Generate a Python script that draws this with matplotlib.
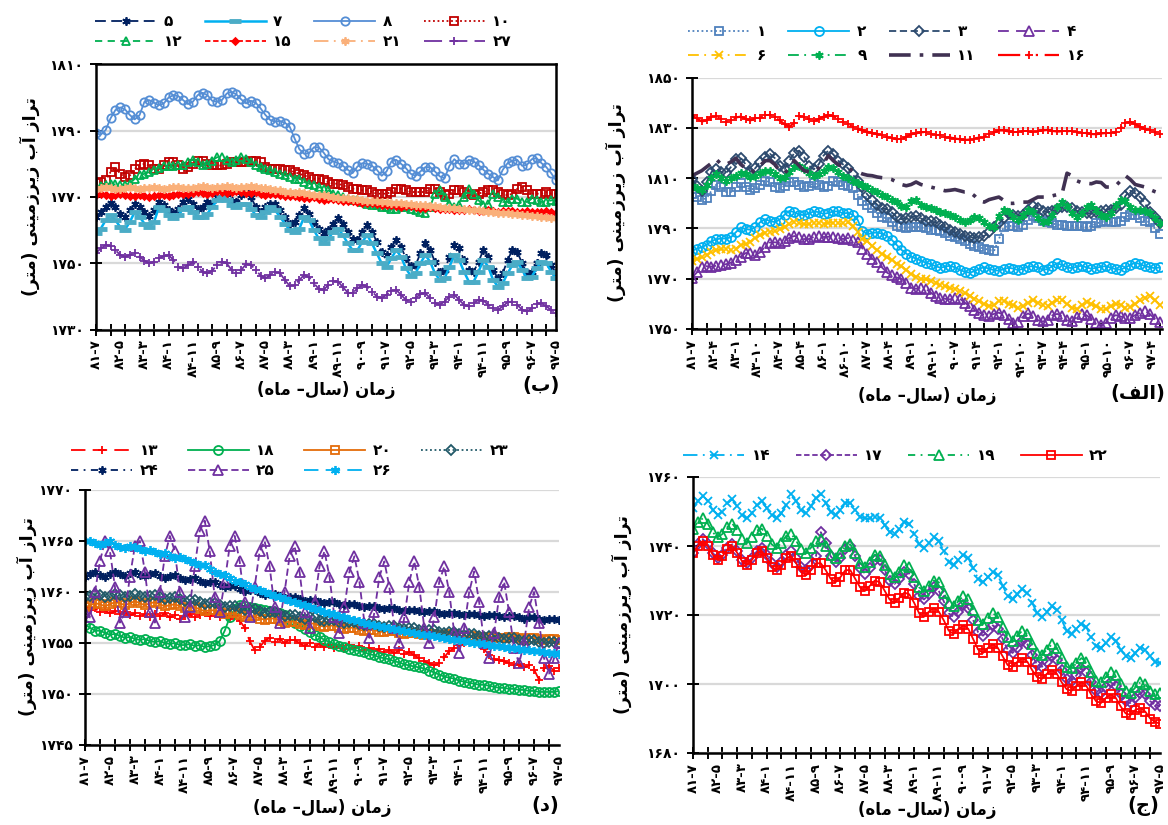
import matplotlib
matplotlib.use('Agg')
import matplotlib.pyplot as plt
from matplotlib.ticker import MultipleLocator, FuncFormatter, FixedLocator

plt.rcParams['font.family'] = ['DejaVu Sans', 'Noto Sans']
plt.rcParams['font.weight'] = 'bold'

# ---------------- data ----------------
# month index counted from 81-7, one point every two months
months = list(range(0, 191, 2))
months_alef = list(range(0, 193, 2))

ticks_10 = ['۸۱-۷', '۸۲-۵', '۸۳-۳', '۸۴-۱', '۸۴-۱۱', '۸۵-۹', '۸۶-۷', '۸۷-۵', '۸۸-۳', '۸۹-۱',
            '۸۹-۱۱', '۹۰-۹', '۹۱-۷', '۹۲-۵', '۹۳-۳', '۹۴-۱', '۹۴-۱۱', '۹۵-۹', '۹۶-۷', '۹۷-۵']
ticks_9 = ['۸۱-۷', '۸۲-۴', '۸۳-۱', '۸۳-۱۰', '۸۴-۷', '۸۵-۴', '۸۶-۱', '۸۶-۱۰', '۸۷-۷', '۸۸-۴', '۸۹-۱',
           '۸۹-۱۰', '۹۰-۷', '۹۱-۴', '۹۲-۱', '۹۲-۱۰', '۹۳-۷', '۹۴-۴', '۹۵-۱', '۹۵-۱۰', '۹۶-۷', '۹۷-۴']

yticks_b = [1730, 1750, 1770, 1790, 1810]
yticks_a = [1750, 1770, 1790, 1810, 1830, 1850]
yticks_d = [1745, 1750, 1755, 1760, 1765, 1770]
yticks_j = [1680, 1700, 1720, 1740, 1760]

# panel (b)
labels_b = ['۵', '۷', '۸', '۱۰', '۱۲', '۱۵', '۲۱', '۲۷']
w5 = [1764, 1765.5, 1767, 1768.2, 1767, 1765, 1764, 1766, 1768, 1767, 1765.5, 1764.2,
      1766, 1768.5, 1767.5, 1766, 1765.2, 1766.5, 1768.5, 1769.5, 1768, 1766.5, 1767, 1768.5,
      1768, 1770, 1772.5, 1771, 1768.8, 1768.5, 1770.5, 1772.5, 1770, 1767, 1765.5, 1767,
      1768, 1767.8, 1766, 1764, 1762, 1762.5, 1764.5, 1766.6, 1765, 1762.5, 1760.5, 1759,
      1760, 1762, 1763.6, 1762, 1759.5, 1757.2, 1757, 1759.5, 1761.6, 1759.5, 1756.5, 1753.5,
      1752.5, 1755, 1757, 1755, 1751.5, 1749.2, 1749.5, 1753, 1756, 1754, 1750.5, 1747.5,
      1748, 1752, 1755.5, 1754.5, 1751, 1748, 1747.5, 1750.5, 1754, 1752, 1748, 1745.5,
      1747, 1751, 1754, 1753.5, 1750, 1747, 1747.5, 1750, 1753, 1752.5, 1749.5, 1747]
w7 = [1759, 1760.5, 1763, 1764.5, 1763, 1761, 1760.2, 1762.5, 1765.5, 1764, 1762, 1761,
      1762.5, 1767, 1766, 1764.5, 1763.7, 1764.5, 1766.5, 1767, 1765.5, 1764, 1764, 1765,
      1767, 1769, 1770, 1769, 1767.5, 1767, 1768, 1768, 1766.5, 1764.5, 1764, 1765.5,
      1767, 1766, 1764, 1762, 1760, 1759.5, 1760.5, 1764, 1763, 1760, 1757.5, 1756,
      1757.5, 1759.5, 1760.5, 1758.5, 1756, 1754, 1754, 1756.5, 1758.5, 1756, 1753, 1750,
      1749, 1751.5, 1754, 1752, 1748.5, 1746.2, 1747, 1750, 1752.5, 1750.5, 1747, 1745,
      1745.5, 1749, 1752.5, 1751, 1747.5, 1744.5, 1744.5, 1747.5, 1751, 1749, 1745, 1743,
      1744, 1747, 1749.5, 1750.5, 1748, 1745.5, 1746, 1748.5, 1750.5, 1750, 1747.5, 1745.5]
w8 = [1789.2, 1788.8, 1790.2, 1793.7, 1796.2, 1797, 1796.4, 1794.7, 1793.4, 1794.7, 1798.7, 1799.2,
      1798.4, 1797.7, 1798.2, 1800, 1800.7, 1800.4, 1799.2, 1798, 1798.7, 1800.7, 1801.4, 1800.7,
      1799, 1798.7, 1799.2, 1801.2, 1801.7, 1800.9, 1799.4, 1798.2, 1799, 1798.4, 1796.7, 1794.7,
      1793.2, 1792.7, 1792.9, 1792.4, 1791.2, 1787.7, 1784.4, 1783, 1783.2, 1785, 1785, 1783.4,
      1781.4, 1780.7, 1780.2, 1779.4, 1778.2, 1777.2, 1779.2, 1780.2, 1780, 1779.4, 1778.2, 1776.4,
      1777.7, 1780.7, 1781.2, 1780, 1778.7, 1777, 1776.4, 1777.7, 1779, 1779, 1777.7, 1776.2,
      1775.7, 1779.4, 1781.4, 1780, 1780, 1781.2, 1780.7, 1779.7, 1778.2, 1777, 1776, 1775,
      1778.2, 1780.2, 1780.9, 1781.2, 1779.4, 1779.7, 1781.4, 1781.7, 1780.2, 1779, 1777.2, 1775]
w10 = [1774.2, 1774.5, 1775, 1777.5, 1779, 1777, 1776, 1776.5, 1778.5, 1779.5, 1780, 1779.5,
       1778.5, 1778.5, 1779.5, 1780.5, 1780.5, 1779.5, 1778.5, 1779, 1780, 1781, 1781, 1780,
       1779.5, 1779.5, 1779.5, 1780, 1780.5, 1780.5, 1780.5, 1780.5, 1781, 1781, 1780.5, 1779,
       1778.5, 1778.5, 1778.5, 1778, 1778, 1777.5, 1777, 1776.5, 1776, 1775.5, 1775.5, 1775,
       1774.5, 1774, 1774, 1773.5, 1773, 1772.5, 1772.5, 1772, 1772, 1771.5, 1771, 1771,
       1771, 1771.5, 1772.5, 1772.5, 1772, 1771.5, 1771.5, 1771.5, 1771.5, 1772.5, 1772.5, 1771.5,
       1770.5, 1771, 1772, 1772, 1771.5, 1771, 1770.5, 1771, 1771.5, 1772, 1772, 1771.5,
       1771, 1770.5, 1771, 1772.5, 1773, 1772, 1771, 1771, 1771, 1771.5, 1771, 1771]
w12 = [1773, 1773.2, 1773.5, 1773.8, 1773.8, 1773.5, 1773.5, 1774, 1775.5, 1776.5, 1777, 1777.5,
       1778, 1778.8, 1779.2, 1779.2, 1779.2, 1779.5, 1779.5, 1780.5, 1781.2, 1780.5, 1779.5, 1780,
       1781, 1782, 1782, 1781.2, 1780.5, 1781.2, 1782.2, 1781.5, 1780.5, 1779.5, 1779, 1778.5,
       1778, 1777.5, 1777, 1776.5, 1776, 1775.5, 1775.5, 1774.5, 1774, 1773.5, 1773, 1772.5,
       1772, 1771, 1770.5, 1770, 1769.5, 1769, 1769, 1768.5, 1768, 1767.5, 1767.5, 1767,
       1767, 1766.5, 1766.5, 1767, 1767, 1766.5, 1766, 1765.5, 1765.2, 1767, 1771, 1772,
       1770, 1768, 1767, 1767.5, 1770, 1772.5, 1771, 1769, 1767.5, 1768, 1771, 1770,
       1768.5, 1768.5, 1769.5, 1769.5, 1768.5, 1768.5, 1769.5, 1769, 1768.5, 1768.5, 1769, 1768.8]
w15 = [1770.5, 1770.8, 1770.5, 1770.2, 1770.5, 1770.8, 1770.5, 1770.2, 1770.3, 1770.6, 1770.4, 1770.1,
       1770.2, 1770.6, 1770.5, 1770.3, 1770.5, 1770.9, 1771, 1770.8, 1771.2, 1771.5, 1771.2, 1771,
       1771.3, 1771.7, 1771.5, 1771.2, 1771.4, 1771.8, 1771.6, 1771.2, 1771.3, 1771.5, 1771, 1770.6,
       1770.8, 1771, 1770.6, 1770.2, 1770.3, 1770.4, 1770, 1769.6, 1769.8, 1769.9, 1769.5, 1769.2,
       1769.3, 1769.4, 1769, 1768.7, 1768.8, 1768.9, 1768.5, 1768.1, 1768.3, 1768.3, 1767.9, 1767.6,
       1767.5, 1767.7, 1767.3, 1767.1, 1767.2, 1767.3, 1766.9, 1766.6, 1766.7, 1766.9, 1766.6, 1766.3,
       1766.3, 1766.5, 1766.2, 1766, 1766.1, 1766.3, 1766, 1765.8, 1765.9, 1766.1, 1765.8, 1765.6,
       1765.7, 1765.9, 1765.7, 1765.5, 1765.6, 1765.8, 1765.6, 1765.4, 1765.5, 1765.7, 1765.5, 1765.3]
w21 = [1772.5, 1772.7, 1772.9, 1772.6, 1772.4, 1772.5, 1772.7, 1772.9, 1772.6, 1772.4, 1772.6, 1772.8,
       1773, 1772.7, 1772.5, 1772.7, 1772.9, 1773.1, 1772.8, 1772.6, 1772.8, 1773, 1773.2, 1772.9,
       1772.7, 1772.9, 1773.1, 1773.3, 1773, 1772.8, 1772.9, 1773.1, 1773.2, 1772.9, 1772.6, 1772.6,
       1772.4, 1772.2, 1772, 1771.6, 1771.4, 1771.3, 1771.4, 1771.2, 1770.9, 1770.6, 1770.5, 1770.5,
       1770.3, 1770.1, 1769.8, 1769.6, 1769.6, 1769.5, 1769.3, 1769.1, 1768.9, 1768.8, 1768.8, 1768.6,
       1768.4, 1768.2, 1768.1, 1768.1, 1768, 1767.8, 1767.6, 1767.5, 1767.5, 1767.4, 1767.2, 1767,
       1766.8, 1766.7, 1766.7, 1766.5, 1766.3, 1766.1, 1766, 1766, 1765.8, 1765.6, 1765.4, 1765.3,
       1765.2, 1765.2, 1765, 1764.8, 1764.6, 1764.5, 1764.4, 1764.3, 1764.1, 1763.9, 1763.8, 1763.6]
w27 = [1753.2, 1754.5, 1755.5, 1755.2, 1754, 1752.5, 1752, 1752.5, 1753, 1752, 1750.8, 1750,
       1750.5, 1751.5, 1752.2, 1752.5, 1751, 1749, 1748.5, 1749.5, 1750.3, 1749, 1747.5, 1747,
       1747.8, 1749.5, 1750.5, 1750, 1748, 1747, 1748, 1749.8, 1749.5, 1748, 1746.3, 1745.5,
       1746.5, 1747.5, 1747, 1745, 1743.2, 1743.5, 1745, 1746.5, 1745.8, 1744, 1742.3, 1742,
       1743.5, 1744.8, 1744.5, 1742.8, 1741.2, 1741, 1742.5, 1743.5, 1743, 1741.5, 1740, 1739.5,
       1740.5, 1741.8, 1742, 1740.5, 1739, 1738.5, 1739.5, 1740.8, 1741, 1739.5, 1738, 1737.5,
       1738.5, 1740, 1740.5, 1739, 1737.5, 1737, 1738, 1739, 1738.8, 1737.5, 1736.5, 1736,
       1737, 1738.3, 1738.5, 1737.5, 1736, 1735.5, 1736.5, 1737.8, 1738, 1737, 1736, 1735]

# panel (alef)
labels_a = ['۱', '۲', '۳', '۴', '۶', '۹', '۱۱', '۱۶']
w1 = [1803.7, 1802.5, 1801.5, 1802, 1805, 1807.5, 1806.5, 1804.5, 1804.5, 1806.5, 1808, 1806.5,
      1805.5, 1806, 1807.5, 1809, 1808.5, 1806.5, 1806, 1807, 1808.5, 1808.5, 1807.5, 1806.5,
      1807, 1808, 1807.5, 1806.5, 1807, 1809, 1808.5, 1807.5, 1807, 1806, 1803.5, 1801,
      1799.5, 1798, 1796, 1794.5, 1794, 1792.5, 1791, 1790.5, 1790.3, 1790.5, 1790.7, 1790.5,
      1790, 1789.5, 1789.3, 1789, 1788.2, 1787.2, 1786.5, 1785.7, 1785, 1784, 1783.2, 1782.5,
      1782, 1781.5, 1781, 1785.7, 1790.5, 1791, 1791, 1790.5, 1791.5, 1793.5, 1795, 1794,
      1793, 1792.5, 1792, 1791.5, 1791.2, 1791, 1791, 1791, 1790.8, 1790.5, 1791, 1792,
      1792.5, 1793, 1792.5, 1792.5, 1793, 1794.5, 1795.5, 1795.5, 1794, 1793, 1792.5, 1790, 1787.7]
w2 = [1781, 1782, 1782.5, 1783.5, 1785, 1785.7, 1786, 1786, 1786.5, 1788.5, 1790.4, 1789.7,
      1789.5, 1790.5, 1792.5, 1793.7, 1793, 1792.5, 1793.5, 1795.5, 1797, 1796.5, 1795.5, 1795.3,
      1796, 1796.8, 1796.5, 1795.8, 1796.2, 1796.8, 1796.8, 1796, 1796.2, 1795.5, 1793.5, 1789,
      1787.7, 1788.2, 1788.4, 1788, 1787, 1785.5, 1783.5, 1781.5, 1780, 1778.8, 1778, 1777.2,
      1776.4, 1775.8, 1775, 1774.4, 1774.8, 1775.2, 1774.5, 1773.5, 1772.8, 1772.4, 1773, 1774,
      1774.6, 1774, 1773.4, 1773.2, 1773.8, 1774.4, 1774, 1773.4, 1774, 1774.8, 1775, 1774.5,
      1773.6, 1773.8, 1775, 1776.2, 1775.5, 1774.5, 1774.2, 1774.8, 1775.2, 1774.5, 1774, 1774.3,
      1774.8, 1775, 1774.4, 1773.8, 1773.6, 1774.5, 1775.5, 1776.4, 1775.8, 1775, 1774.6, 1774.2, 1774.5]
w3 = [1809.7, 1807, 1805, 1808.5, 1812.5, 1813.7, 1812.5, 1812, 1814.5, 1817.5, 1818.2, 1815.5,
      1812.5, 1814, 1816.5, 1818.5, 1819.7, 1818, 1815, 1813.5, 1817, 1820, 1821, 1818.5,
      1815, 1813.5, 1815.5, 1819, 1821, 1819.5, 1817, 1815.5, 1814, 1811.5, 1809, 1806.5,
      1803.5, 1801.5, 1799.5, 1798, 1797.7, 1796.5, 1794.5, 1793.7, 1794, 1794.5, 1795, 1794,
      1793, 1792.8, 1792.4, 1791.5, 1790.5, 1789.5, 1788.5, 1788, 1787, 1786.5, 1786.4, 1786.6,
      1787, 1788.5, 1790.4, 1792, 1794, 1795.7, 1795.5, 1795, 1795.5, 1797.5, 1799, 1798,
      1797, 1796.5, 1796.8, 1797.8, 1798.5, 1798.5, 1798, 1797, 1796.5, 1796.2, 1796, 1796.5,
      1797, 1797.5, 1797.5, 1798, 1799.5, 1803, 1805, 1804, 1802.5, 1800, 1796.5, 1794.5, 1792]
w4 = [1770.4, 1772.5, 1774.5, 1775, 1774.8, 1775.2, 1775.5, 1775.8, 1776.4, 1777.5, 1778.8, 1780.2,
      1780.4, 1779.5, 1780.5, 1782.8, 1784.4, 1784.5, 1784.3, 1785.2, 1786.3, 1787, 1786.5, 1785.8,
      1785.8, 1786.6, 1787, 1786.6, 1786.7, 1786.8, 1786.3, 1785.8, 1786.2, 1785.5, 1784.5, 1782,
      1780, 1778, 1776.5, 1774.5, 1772.5, 1771.3, 1770.5, 1770, 1768.5, 1766.4, 1766, 1766.5,
      1766, 1764.5, 1763, 1762.5, 1762, 1761.8, 1762.5, 1762, 1760.5, 1759, 1757.5, 1756.5,
      1755.7, 1755.2, 1756, 1756.5, 1755.5, 1754, 1752.5, 1752.7, 1755, 1756.2, 1755, 1753.5,
      1753, 1753.5, 1755.5, 1756, 1755, 1753.5, 1753, 1754.8, 1756, 1755.5, 1754, 1752.5,
      1751.7, 1752.5, 1754.5, 1755.5, 1755, 1754.3, 1754.5, 1755.5, 1756.5, 1757.2, 1756, 1754, 1752.7]
w6 = [1777, 1777.8, 1778.5, 1779.5, 1780.5, 1781.3, 1781.8, 1781.7, 1781.5, 1782, 1783.3, 1784,
      1784.8, 1786.2, 1787.3, 1788.4, 1788.6, 1789, 1789.8, 1790.6, 1791.8, 1792.4, 1792.1, 1791.7,
      1791.8, 1792.1, 1792, 1791.9, 1792.3, 1792.2, 1792, 1792.2, 1792.4, 1791, 1788.5, 1786,
      1785, 1783, 1781.5, 1780, 1778.5, 1777.5, 1776, 1775, 1773.5, 1772, 1770.8, 1770,
      1769.7, 1769.2, 1768.5, 1767.7, 1767, 1766.2, 1765.8, 1765.2, 1764.5, 1763.3, 1762, 1761,
      1759.8, 1759.2, 1759.5, 1761.2, 1761.2, 1760, 1759.5, 1758.5, 1759, 1760.5, 1761.5, 1760.5,
      1759.5, 1759, 1760.5, 1761.5, 1761.7, 1760, 1758.5, 1758, 1759.5, 1760.7, 1760, 1759,
      1758, 1757.8, 1759, 1760, 1759.7, 1758.5, 1758.8, 1760, 1761.5, 1762.5, 1763, 1761.5, 1759.5]
w9 = [1807, 1806, 1805.5, 1807.5, 1810, 1811.5, 1810, 1809, 1810, 1811, 1812, 1811.5,
      1810.5, 1811, 1812, 1813, 1813, 1811.5, 1810, 1810.5, 1812.5, 1814.5, 1815, 1813.5,
      1812, 1811, 1811.5, 1813, 1814.5, 1814, 1812.5, 1811, 1810, 1809, 1808, 1807.5,
      1806.5, 1805.5, 1804.5, 1803.5, 1802.5, 1801.5, 1800.5, 1799, 1798.5, 1801, 1801.5, 1799.5,
      1798.5, 1798, 1797.5, 1796.5, 1796, 1795.5, 1794.5, 1793.5, 1792.5, 1793.5, 1794.5, 1794,
      1792.5, 1791, 1790.5, 1795, 1797.5, 1796.5, 1794.5, 1793.5, 1795.5, 1797.5, 1796.5, 1794,
      1792.5, 1793, 1795.5, 1798.5, 1800.5, 1799, 1796, 1794.5, 1796, 1798.5, 1799.5, 1797.5,
      1795.5, 1794.5, 1796, 1799.5, 1801.5, 1801, 1798.5, 1797.5, 1797.5, 1797, 1796, 1794, 1792.2]
w11 = [1811, 1812, 1813, 1814.5, 1816, 1817.5, 1815.5, 1815.5, 1816.5, 1818, 1815.5, 1814,
       1812.5, 1813, 1815, 1817, 1817, 1815.5, 1813, 1812, 1814, 1817, 1815, 1813,
       1812.5, 1812.5, 1814, 1816, 1819, 1817, 1815.5, 1814.5, 1814, 1813, 1812.5, 1811.7,
       1811.2, 1811, 1810.5, 1810.2, 1810, 1809.5, 1808.5, 1807.5, 1807, 1807.5, 1808.5, 1807.5,
       1807, 1806.5, 1806, 1805.5, 1805, 1805.2, 1805.5, 1805, 1804.5, 1804.5, 1803, 1801,
       1800.5, 1801.5, 1802, 1802.5, 1801.2, 1800, 1800, 1800.3, 1800.5, 1800.5, 1801.5, 1802.5,
       1802.5, 1802.5, 1803, 1803.5, 1804, 1812, 1811, 1809, 1808.2, 1808, 1807.8, 1808.5,
       1808.3, 1806.5, 1806.5, 1807, 1809, 1811, 1809.5, 1807.5, 1807, 1806.5, 1805.5, 1804.7, 1804]
w16 = [1835, 1833.8, 1832.6, 1833, 1834.5, 1834.6, 1833.5, 1832.5, 1833.3, 1834.2, 1834.5, 1833.6,
       1833, 1833.8, 1834, 1835, 1835.3, 1834.2, 1833, 1831.5, 1830.5, 1832, 1834.8, 1834.2,
       1833.5, 1832.8, 1833.5, 1834.5, 1835, 1834.8, 1833.5, 1832.5, 1831.5, 1830.5, 1829.5, 1829,
       1828.5, 1828, 1827.5, 1827, 1826.5, 1826, 1825.5, 1825.5, 1826.5, 1827.5, 1827.8, 1828.4,
       1828.2, 1827.7, 1827.2, 1827.2, 1826.5, 1826.2, 1825.8, 1825.5, 1825.2, 1825.4, 1825.8, 1826.2,
       1826.5, 1827.5, 1828.2, 1829, 1829, 1828.6, 1828.4, 1828.4, 1828.7, 1828.6, 1828.4, 1828.8,
       1829, 1829.2, 1828.8, 1828.6, 1828.6, 1828.8, 1828.6, 1828.3, 1828, 1828, 1827.6, 1827.5,
       1827.8, 1828, 1827.8, 1828.2, 1830, 1832, 1832.4, 1831.5, 1830.5, 1829.5, 1829, 1828.2, 1827.6]

# panel (d)
labels_d = ['۱۳', '۱۸', '۲۰', '۲۳', '۲۴', '۲۵', '۲۶']
w13 = [1758.5, 1758.2, 1758.4, 1758, 1758.2, 1757.9, 1758.1, 1757.8, 1758, 1757.7, 1757.9, 1757.6,
       1757.8, 1757.5, 1757.8, 1757.6, 1757.9, 1757.5, 1757.7, 1757.4, 1757.6, 1757.8, 1757.5, 1757.7,
       1757.9, 1757.6, 1757.8, 1757.5, 1757.7, 1757.4, 1757.6, 1757.2, 1756.5, 1755.2, 1754.3, 1754.6,
       1755.2, 1755.5, 1755.1, 1755.4, 1755, 1755.3, 1755.3, 1755, 1754.7, 1755, 1754.6, 1754.9,
       1754.6, 1754.8, 1754.5, 1754.8, 1754.4, 1754.8, 1754.5, 1754.7, 1754.3, 1754.5, 1754.2, 1754.4,
       1754.1, 1754.3, 1754, 1754.3, 1753.9, 1754.1, 1753.8, 1753.5, 1753.2, 1753, 1752.8, 1753,
       1753.6, 1754.2, 1754.5, 1754.8, 1755, 1755.2, 1755.3, 1755, 1754.4, 1753.8, 1753.4, 1753.3,
       1753.2, 1753, 1752.8, 1752.9, 1752.6, 1752.8, 1752.4, 1751.4, 1752.5, 1752.7, 1752.3, 1752.5]
w18 = [1756.8, 1756.5, 1756.2, 1756.2, 1756, 1755.8, 1755.9, 1755.7, 1755.5, 1755.6, 1755.4, 1755.3,
       1755.4, 1755.2, 1755.1, 1755.2, 1755, 1754.9, 1755, 1754.8, 1754.8, 1754.9, 1754.7, 1754.8,
       1754.6, 1754.7, 1754.8, 1755.2, 1756.2, 1757.5, 1758.3, 1758.7, 1758.6, 1758.5, 1758.4, 1758.3,
       1758.2, 1758.1, 1758, 1757.9, 1757.7, 1757.3, 1757, 1756.7, 1756.4, 1756.1, 1755.8, 1755.6,
       1755.3, 1755.1, 1754.9, 1754.7, 1754.6, 1754.4, 1754.3, 1754.2, 1754.1, 1753.9, 1753.8, 1753.6,
       1753.5, 1753.4, 1753.2, 1753.1, 1752.9, 1752.8, 1752.7, 1752.6, 1752.5, 1752.3, 1752.1, 1751.9,
       1751.7, 1751.6, 1751.5, 1751.3, 1751.2, 1751.1, 1751, 1750.9, 1750.9, 1750.8, 1750.7, 1750.6,
       1750.6, 1750.5, 1750.5, 1750.4, 1750.4, 1750.3, 1750.3, 1750.2, 1750.2, 1750.2, 1750.2, 1750.3]
w20 = [1758.5, 1758.7, 1758.9, 1758.8, 1758.6, 1758.8, 1759, 1758.9, 1758.7, 1758.9, 1759.1, 1758.9,
       1758.7, 1758.9, 1759, 1758.8, 1758.6, 1758.7, 1758.8, 1758.6, 1758.4, 1758.5, 1758.5, 1758.3,
       1758.1, 1758.2, 1758.2, 1758, 1757.8, 1757.9, 1757.9, 1757.7, 1757.5, 1757.6, 1757.6, 1757.4,
       1757.3, 1757.4, 1757.4, 1757.2, 1757, 1757.1, 1757.1, 1756.9, 1756.8, 1756.9, 1756.9, 1756.7,
       1756.6, 1756.7, 1756.7, 1756.5, 1756.4, 1756.5, 1756.5, 1756.3, 1756.2, 1756.3, 1756.3, 1756.1,
       1756.1, 1756.2, 1756.2, 1756, 1755.9, 1756, 1756, 1755.9, 1755.8, 1755.9, 1755.9, 1755.8,
       1755.8, 1755.9, 1755.9, 1755.7, 1755.6, 1755.7, 1755.7, 1755.6, 1755.5, 1755.6, 1755.6, 1755.5,
       1755.5, 1755.6, 1755.6, 1755.5, 1755.4, 1755.5, 1755.5, 1755.4, 1755.3, 1755.4, 1755.4, 1755.3]
w23 = [1759.5, 1759.6, 1759.8, 1759.7, 1759.5, 1759.6, 1759.8, 1759.7, 1759.5, 1759.6, 1759.8, 1759.6,
       1759.5, 1759.6, 1759.7, 1759.5, 1759.3, 1759.4, 1759.5, 1759.3, 1759.1, 1759.2, 1759.2, 1759,
       1758.8, 1758.9, 1758.9, 1758.7, 1758.5, 1758.6, 1758.6, 1758.4, 1758.2, 1758.3, 1758.3, 1758.1,
       1757.9, 1758, 1758, 1757.8, 1757.6, 1757.7, 1757.7, 1757.5, 1757.4, 1757.5, 1757.5, 1757.3,
       1757.2, 1757.3, 1757.3, 1757.1, 1757, 1757.1, 1757.1, 1756.9, 1756.8, 1756.9, 1756.9, 1756.7,
       1756.6, 1756.7, 1756.7, 1756.5, 1756.4, 1756.5, 1756.5, 1756.3, 1756.2, 1756.3, 1756.3, 1756.1,
       1756, 1756.1, 1756.1, 1755.9, 1755.8, 1755.9, 1755.9, 1755.7, 1755.6, 1755.7, 1755.7, 1755.5,
       1755.4, 1755.5, 1755.5, 1755.3, 1755.2, 1755.3, 1755.3, 1755.1, 1755, 1755.1, 1755.1, 1755]
w24 = [1761.5, 1761.8, 1762, 1761.7, 1761.5, 1761.8, 1762, 1761.8, 1761.6, 1761.9, 1762, 1761.7,
       1761.6, 1761.8, 1761.9, 1761.6, 1761.4, 1761.6, 1761.7, 1761.4, 1761.2, 1761.3, 1761.4, 1761.1,
       1760.9, 1761, 1761, 1760.7, 1760.5, 1760.6, 1760.6, 1760.3, 1760.1, 1760.2, 1760.2, 1759.9,
       1759.7, 1759.8, 1759.8, 1759.6, 1759.4, 1759.5, 1759.5, 1759.3, 1759.1, 1759.2, 1759.2, 1759,
       1758.9, 1759, 1759, 1758.8, 1758.7, 1758.8, 1758.8, 1758.6, 1758.5, 1758.6, 1758.6, 1758.4,
       1758.3, 1758.4, 1758.4, 1758.2, 1758.1, 1758.2, 1758.2, 1758.1, 1758, 1758.1, 1758.1, 1757.9,
       1757.8, 1757.9, 1757.9, 1757.8, 1757.7, 1757.8, 1757.8, 1757.7, 1757.6, 1757.7, 1757.7, 1757.6,
       1757.5, 1757.6, 1757.6, 1757.5, 1757.4, 1757.5, 1757.5, 1757.4, 1757.3, 1757.4, 1757.4, 1757.3]
w25 = [1758, 1757.5, 1760, 1763, 1765, 1764, 1760.5, 1757, 1758, 1761.5, 1764.5, 1765,
       1762, 1758, 1757, 1760, 1763.5, 1765.5, 1764, 1760, 1757.5, 1758.5, 1762.5, 1766,
       1767, 1764, 1759.5, 1758, 1761, 1764.5, 1765.5, 1763, 1759, 1757.5, 1760.5, 1764,
       1765, 1762.5, 1758.5, 1757, 1760, 1763.5, 1764.5, 1762, 1758, 1756.5, 1759, 1762.5,
       1764, 1761.5, 1757.5, 1756, 1758.5, 1762, 1763.5, 1761, 1757, 1755.5, 1758, 1761.5,
       1763, 1760.5, 1756.5, 1755, 1757.5, 1761, 1763, 1760.5, 1756.5, 1755, 1757.5, 1761,
       1762.5, 1760, 1756, 1754, 1756.5, 1760, 1762, 1759, 1755, 1753.5, 1756, 1759.5,
       1761, 1758, 1754.5, 1753, 1755, 1758.5, 1760, 1757, 1753.5, 1752, 1753.5, 1755]
w26 = [1765, 1765, 1764.8, 1764.6, 1764.8, 1765, 1764.6, 1764.4, 1764.3, 1764.5, 1764.4, 1764.2,
       1764, 1764.1, 1763.9, 1763.7, 1763.8, 1763.5, 1763.3, 1763.4, 1763.2, 1763, 1762.8, 1762.6,
       1762.6, 1762.3, 1762, 1761.8, 1761.7, 1761.4, 1761.1, 1761, 1760.8, 1760.5, 1760.3, 1760.2,
       1760, 1759.8, 1759.6, 1759.5, 1759.3, 1759.1, 1759, 1758.8, 1758.7, 1758.5, 1758.3, 1758.2,
       1758, 1757.9, 1757.8, 1757.6, 1757.5, 1757.4, 1757.3, 1757.2, 1757, 1756.9, 1756.8, 1756.7,
       1756.6, 1756.5, 1756.4, 1756.3, 1756.2, 1756.1, 1756, 1755.9, 1755.8, 1755.8, 1755.7, 1755.6,
       1755.5, 1755.4, 1755.3, 1755.3, 1755.2, 1755.1, 1755, 1755, 1754.9, 1754.8, 1754.7, 1754.7,
       1754.6, 1754.5, 1754.5, 1754.4, 1754.3, 1754.3, 1754.2, 1754.2, 1754.1, 1754, 1754, 1753.9]

# panel (j)
labels_j = ['۱۴', '۱۷', '۱۹', '۲۲']
w14 = [1751, 1753, 1754.5, 1753, 1750.5, 1749, 1750, 1752.5, 1753.5, 1751.5, 1749, 1748,
       1749.5, 1752, 1753, 1751, 1749, 1748, 1749.5, 1752, 1755, 1753, 1750.5, 1749.5,
       1751.5, 1754, 1755, 1752.5, 1750, 1749, 1750.5, 1752.5, 1752.5, 1750.5, 1748.5, 1748,
       1748, 1748.5, 1748, 1746, 1744, 1743.5, 1745, 1747, 1746.5, 1743.5, 1740.5, 1739.5,
       1741, 1742.5, 1741.5, 1738.5, 1735.5, 1734.5, 1736, 1737.5, 1736.5, 1733.5, 1730.5, 1729.5,
       1731, 1732.5, 1731.5, 1728.5, 1725.5, 1724.5, 1726, 1727.5, 1726.5, 1723.5, 1720.5, 1719.5,
       1721, 1722.5, 1721.5, 1718.5, 1715.5, 1714.5, 1716, 1717.5, 1716.5, 1713.5, 1711, 1710.5,
       1712, 1713.5, 1712.5, 1710, 1708, 1707.5, 1709, 1710.5, 1710, 1708, 1706.5, 1706]
w17 = [1738, 1740.5, 1742, 1740.5, 1738, 1736.5, 1737.5, 1739.5, 1740.5, 1738.5, 1736, 1735,
       1736.5, 1738.5, 1739.5, 1737.5, 1735, 1734, 1735.5, 1737.5, 1738.5, 1736.5, 1734, 1733,
       1734.5, 1737, 1744, 1741, 1737, 1735.5, 1736.5, 1739, 1740, 1737, 1733.5, 1732,
       1733.5, 1736, 1736, 1733, 1730, 1729, 1730.5, 1732.5, 1732, 1729, 1725.5, 1724.5,
       1726, 1728, 1727, 1724, 1720.5, 1719.5, 1721, 1723, 1722, 1718.5, 1715, 1714,
       1715.5, 1717, 1716, 1713, 1710, 1709, 1710.5, 1712.5, 1711.5, 1708.5, 1705.5, 1705,
       1706.5, 1708, 1707, 1704, 1701.5, 1701, 1702.5, 1704.5, 1703.5, 1700.5, 1698, 1697.5,
       1699, 1700.5, 1699.5, 1697, 1695, 1694.5, 1696, 1697.5, 1697, 1695, 1694, 1693.5]
w19 = [1745, 1747, 1748, 1746.5, 1744, 1742.5, 1743.5, 1745.5, 1746.5, 1744.5, 1742, 1741,
       1742.5, 1744.5, 1745, 1743, 1740.5, 1739.5, 1741, 1743, 1743.5, 1741.5, 1739, 1738,
       1739.5, 1741.5, 1742, 1740, 1737.5, 1736.5, 1738, 1740, 1740.5, 1738, 1735, 1734,
       1735.5, 1737.5, 1737, 1734.5, 1732, 1731, 1732.5, 1734.5, 1734, 1731, 1728, 1727,
       1728.5, 1730, 1729.5, 1726.5, 1723.5, 1722.5, 1724, 1725.5, 1724.5, 1721.5, 1718.5, 1717.5,
       1719, 1720.5, 1719.5, 1716.5, 1713.5, 1712.5, 1714, 1715.5, 1714.5, 1711.5, 1709, 1708.5,
       1710, 1711.5, 1710.5, 1707.5, 1705, 1704.5, 1706, 1707.5, 1706.5, 1703.5, 1701, 1700.5,
       1702, 1703.5, 1702.5, 1700, 1698, 1697.5, 1699, 1700.5, 1700, 1698, 1697, 1697.5]
w22 = [1738, 1740, 1741.5, 1740, 1737.5, 1736, 1737, 1739, 1740, 1738, 1735.5, 1734.5,
       1736, 1738, 1738.5, 1736.5, 1734, 1733, 1734.5, 1736.5, 1737, 1735, 1732.5, 1731.5,
       1733, 1735, 1735, 1733, 1730.5, 1729.5, 1731, 1733, 1733, 1730.5, 1728, 1727,
       1728.5, 1730, 1729.5, 1727, 1724.5, 1723.5, 1725, 1726.5, 1726, 1723.5, 1720.5, 1719.5,
       1721, 1722, 1721, 1718.5, 1715.5, 1714.5, 1716, 1717, 1716, 1713, 1710, 1709,
       1710.5, 1711.5, 1710.5, 1708, 1705.5, 1705, 1706.5, 1707.5, 1706.5, 1704, 1702, 1701.5,
       1703, 1704, 1703, 1700.5, 1698.5, 1698, 1699.5, 1700.5, 1699.5, 1697, 1695, 1694.5,
       1696, 1697, 1696, 1693.5, 1691.5, 1691, 1692.5, 1693, 1692, 1690, 1689, 1688.5]

# ---------------- text (pre-shaped Persian, visual order) ----------------
YLABEL = '(\uFEAE\uFE98\uFEE3) \uFEF0\uFEE8\uFEF4\uFEE3\uFEAF\uFEAE\uFEF3\uFEAF \uFE8F\uFE81 \uFEAF\uFE8D\uFEAE\uFE97'
XLABEL = '(\uFEE9\uFE8E\uFEE3 \u2013\uFEDD\uFE8E\uFEB3) \uFEE5\uFE8E\uFEE3\uFEAF'
TAG_B = '(\uFE8F)'
TAG_A = '(\uFED2\uFEDF\uFE8D)'
TAG_D = '(\uFEA9)'
TAG_J = '(\uFE9D)'

FA = str.maketrans('0123456789', '۰۱۲۳۴۵۶۷۸۹')


def fa_fmt(v, pos=None):
    return str(int(round(v))).translate(FA)


W, H = 1168, 825
fig = plt.figure(figsize=(W / 100, H / 100), dpi=100)


def rect(l, t, r, b):
    return [l / W, 1 - b / H, (r - l) / W, (b - t) / H]


def setup(ax, yticks, xmax, lstep, labels, box=False):
    ax.set_xlim(0, xmax)
    ax.set_ylim(yticks[0], yticks[-1])
    ax.yaxis.set_major_locator(FixedLocator(yticks))
    ax.yaxis.set_major_formatter(FuncFormatter(fa_fmt))
    ax.xaxis.set_major_locator(FixedLocator([i * lstep for i in range(len(labels))]))
    ax.set_xticklabels(labels, rotation=90, fontsize=9.5, fontweight='bold')
    ax.xaxis.set_minor_locator(MultipleLocator(6))
    ax.xaxis.remove_overlapping_locs = False
    ax.tick_params(axis='x', which='major', length=0, pad=7)
    ax.tick_params(axis='x', which='minor', direction='inout', length=8, width=1.4)
    ax.tick_params(axis='y', which='major', direction='inout', length=8, width=1.4,
                   labelsize=10, pad=5)
    for t in ax.get_yticklabels():
        t.set_fontweight('bold')
    ax.grid(axis='y', color='#D9D9D9', lw=1.6)
    ax.set_axisbelow(True)
    for s in ['left', 'bottom']:
        ax.spines[s].set_linewidth(1.8)
    for s in ['top', 'right']:
        ax.spines[s].set_visible(box)
        ax.spines[s].set_linewidth(1.8)


AST = (6, 2, 0)


def plot(ax, y, x, color, marker, ls, ms=5, mfc='none', lw=1.3, mec=None, mew=1.3, **kw):
    return ax.plot(x, y, color=color, marker=marker, ls=ls, ms=ms, mfc=mfc, lw=lw,
                   mec=mec or color, mew=mew, **kw)[0]


def legend(handles, labels, x, y, order, colsp, lsp=0.35):
    h = [handles[i] for i in order]
    l = [labels[i] for i in order]
    fig.legend(h, l, loc='upper left', bbox_to_anchor=(x / W, 1 - y / H), ncol=4,
               frameon=False, handlelength=4.0, handletextpad=0.5,
               columnspacing=colsp, labelspacing=lsp, borderaxespad=0, borderpad=0,
               prop={'weight': 'bold', 'size': 11})


# ---------------- panel (b) ----------------
axb = fig.add_axes(rect(96, 64.3, 556, 329.7))
setup(axb, yticks_b, 190, 10, ticks_10, box=True)
hb = [
    plot(axb, w5, months, '#002060', AST, (0, (6, 3)), ms=6),
    plot(axb, w7, months, '#00B0F0', '_', '-', ms=9, mec='#4BACC6', mew=3.5, lw=1.8),
    plot(axb, w8, months, '#558ED5', 'o', '-', ms=6),
    plot(axb, w10, months, '#C00000', 's', (0, (1, 1.5)), ms=6),
    plot(axb, w12, months, '#00B050', '^', (0, (4, 3)), ms=6),
    plot(axb, w15, months, '#FF0000', 'D', (0, (3, 1.5)), ms=3.5, mfc='#FF0000'),
    plot(axb, w21, months, '#FAB07A', AST, (0, (8, 3, 1, 3)), ms=6),
    plot(axb, w27, months, '#7030A0', '+', (0, (10, 4)), ms=6),
]
legend(hb, labels_b, 95, 14, [0, 4, 1, 5, 2, 6, 3, 7], 1.45)

# ---------------- panel (alef) ----------------
axa = fig.add_axes(rect(692, 77.7, 1162, 329))
setup(axa, yticks_a, 193, 9, ticks_9)
ha = [
    plot(axa, w1, months_alef, '#4F81BD', 's', (0, (1, 1.5)), ms=6),
    plot(axa, w2, months_alef, '#00B0F0', 'o', '-', ms=6.5),
    plot(axa, w3, months_alef, '#2C4A6E', 'D', (0, (4, 2)), ms=5),
    plot(axa, w4, months_alef, '#7030A0', '^', (0, (6, 4)), ms=6.5),
    plot(axa, w6, months_alef, '#FFC000', 'x', (0, (6, 3, 1, 3)), ms=6),
    plot(axa, w9, months_alef, '#00B050', AST, (0, (6, 3, 1, 3)), ms=6),
    plot(axa, w11, months_alef, '#403152', '', (0, (6, 2.5, 1, 2.5)), lw=2.6),
    plot(axa, w16, months_alef, '#FF0000', '+', (0, (10, 3, 1, 3, 1, 3)), ms=6, lw=1.6),
]
legend(ha, labels_a, 688, 24, [0, 4, 1, 5, 2, 6, 3, 7], 1.45, lsp=0.6)

# ---------------- panel (d) ----------------
axd = fig.add_axes(rect(85, 490, 559, 745))
setup(axd, yticks_d, 190, 10, ticks_10)
hd = [
    plot(axd, w13, months, '#FF0000', '+', (0, (8, 4)), ms=6),
    plot(axd, w18, months, '#00B050', 'o', '-', ms=6.5),
    plot(axd, w20, months, '#E46C0A', 's', '-', ms=5.5),
    plot(axd, w23, months, '#215968', 'D', (0, (1, 1.5)), ms=5),
    plot(axd, w24, months, '#002060', AST, (0, (4, 3, 1, 3)), ms=6),
    plot(axd, w25, months, '#7030A0', '^', (0, (4, 2)), ms=7),
    plot(axd, w26, months, '#00B0F0', AST, (0, (8, 4)), ms=6.5),
]
legend(hd, labels_d, 71, 443, [0, 4, 1, 5, 2, 6, 3], 1.9)

# ---------------- panel (j) ----------------
axj = fig.add_axes(rect(693, 477, 1160, 753))
setup(axj, yticks_j, 190, 10, ticks_10)
hj = [
    plot(axj, w14, months, '#00B0F0', 'x', (0, (8, 3, 1, 3)), ms=6),
    plot(axj, w17, months, '#7030A0', 'D', (0, (3, 1.5)), ms=5.5),
    plot(axj, w19, months, '#00B050', '^', (0, (4, 3, 1, 3)), ms=7),
    plot(axj, w22, months, '#FF0000', 's', '-', ms=6),
]
legend(hj, labels_j, 683, 448, [0, 1, 2, 3], 1.65)

# ---------------- labels ----------------
for (yx, yy, xx, xy, tx, ty, tag) in [
        (30, 197, 326, 390, 541, 385, TAG_B),
        (616, 203, 927, 396, 1138, 394, TAG_A),
        (27, 617, 322, 808, 545, 806, TAG_D),
        (622, 615, 927, 810, 1143, 806, TAG_J)]:
    fig.text(yx / W, 1 - yy / H, YLABEL, rotation=90, ha='center', va='center',
             fontsize=12.5, fontweight='bold')
    fig.text(xx / W, 1 - xy / H, XLABEL, ha='center', va='center',
             fontsize=12, fontweight='bold')
    fig.text(tx / W, 1 - ty / H, tag, ha='center', va='center',
             fontsize=14, fontweight='bold')

fig.savefig('out.png', dpi=100)
